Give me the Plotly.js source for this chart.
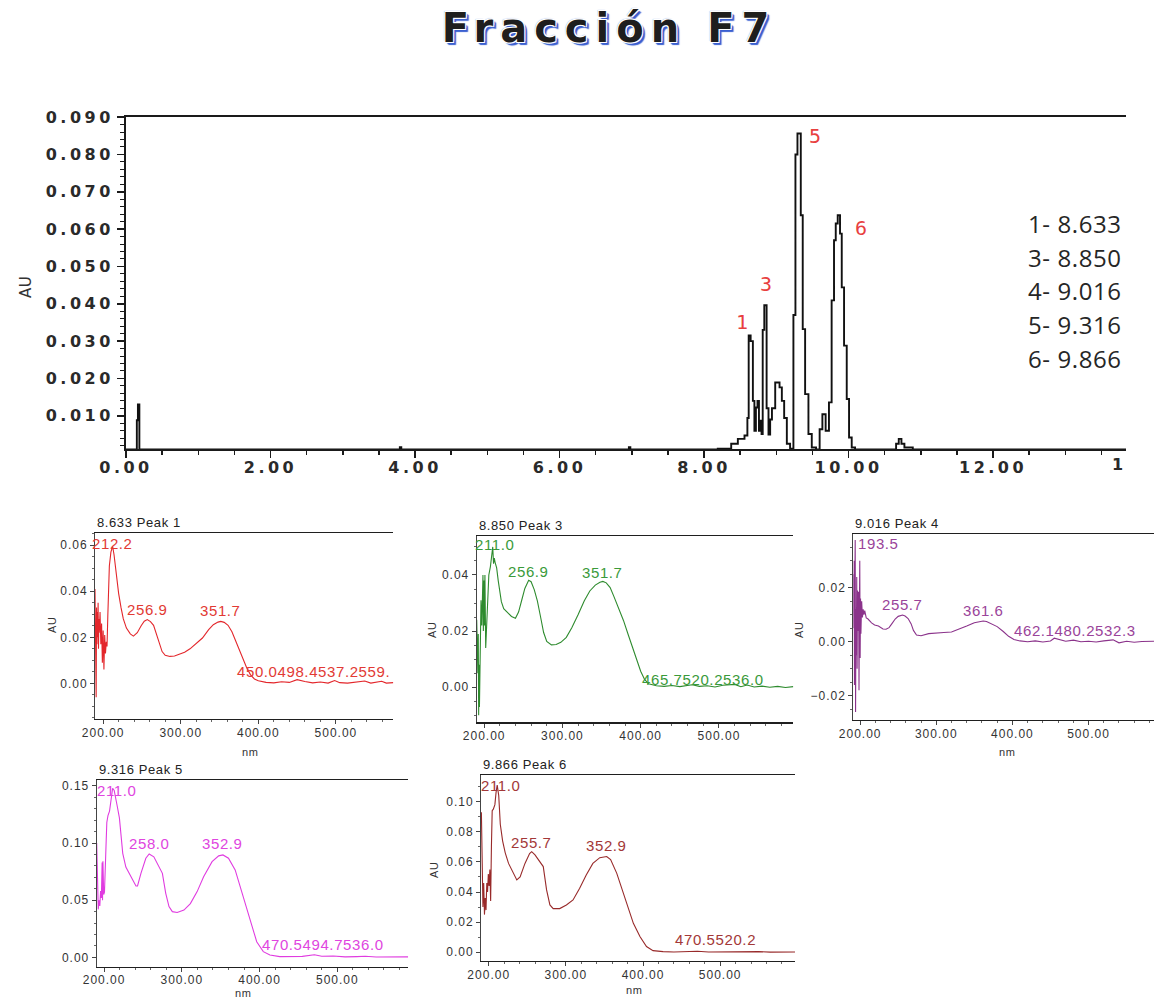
<!DOCTYPE html>
<html>
<head>
<meta charset="utf-8">
<script src="https://cdn.plot.ly/plotly-3.0.1.min.js"></script>
<style>
  html, body { margin: 0; padding: 0; background: #fff; }
  #chart { width: 1154px; height: 1001px; }
  .gtitle { letter-spacing: 7px; }
  .xtick text, .ytick text { letter-spacing: 3.5px; }
  .x2tick text, .y2tick text, .x3tick text, .y3tick text, .x4tick text, .y4tick text,
  .x5tick text, .y5tick text, .x6tick text, .y6tick text { letter-spacing: 1px; }
  .annotation-text { letter-spacing: 0.6px; }
</style>
</head>
<body>
<div id="chart"></div>
<script>
// ---- Chromatogram, fraction F7 (retention time in min, absorbance in AU) ----
const rtMin = [
  0.000, 0.150, 0.165, 0.185, 3.790, 3.810, 6.960, 6.980, 8.000, 8.190,
  8.376, 8.468, 8.560, 8.600, 8.618, 8.645, 8.676, 8.697, 8.718, 8.740,
  8.760, 8.778, 8.796, 8.812, 8.834, 8.866, 8.892, 8.915, 8.940, 8.985,
  9.045, 9.077, 9.109, 9.146, 9.191, 9.237, 9.265, 9.293, 9.339, 9.366,
  9.399, 9.445, 9.491, 9.550, 9.600, 9.638, 9.683, 9.729, 9.766, 9.799,
  9.823, 9.850, 9.882, 9.906, 9.938, 9.975, 10.007, 10.044, 10.090, 10.658,
  10.695, 10.732, 10.773, 10.889, 13.840
];
const rtAU = [
  0.0010, 0.0088, 0.0130, 0.0010, 0.0016, 0.0010, 0.0016, 0.0010, 0.0010, 0.0012,
  0.0025, 0.0038, 0.0047, 0.0094, 0.0315, 0.0300, 0.0140, 0.0060, 0.0122, 0.0140,
  0.0060, 0.0087, 0.0051, 0.0330, 0.0396, 0.0120, 0.0050, 0.0090, 0.0120, 0.0189,
  0.0176, 0.0140, 0.0094, 0.0025, 0.0012, 0.0370, 0.0800, 0.0856, 0.0637, 0.0332,
  0.0158, 0.0051, 0.0015, 0.0010, 0.0064, 0.0104, 0.0060, 0.0136, 0.0409, 0.0570,
  0.0615, 0.0637, 0.0588, 0.0444, 0.0288, 0.0145, 0.0042, 0.0015, 0.0010, 0.0025,
  0.0038, 0.0025, 0.0015, 0.0010, 0.0010
];

// Numbered peaks and their retention times
const peakNumbers = ['1', '3', '5', '6'];
const peakListNumbers = ['1', '3', '4', '5', '6'];
const peakListTimes = ['8.633', '8.850', '9.016', '9.316', '9.866'];

// ---- UV spectra (wavelength in nm, absorbance in AU) ----
// Peak 1, 8.633 min
const p1Nm = [189.5,190,190.5,191,191.5,192,192.5,193,193.5,194,194.5,195,196,197,198,199,200,201,202,203,
  204,205,206,207,208,210,212.2,214,216,218,220,223,226,230,235,239,244,249,253,256.9,
  261,265,268,272,276,280,286,292,298,305,312,320,328,336,342,348,351.7,356,361,366,
  370,375,380,385,390,395,400,410,420,430,440,450,460,470,480,490,498.4,505,515,525,
  537.2,545,552,559,565,574];
const p1Au = [0.041,0.012,0.036,-0.006,0.033,0.017,0.031,0.020,0.035,0.015,0.028,0.022,0.031,0.017,0.026,0.009,0.023,0.006,0.021,0.013,
  0.018,0.016,0.029,0.041,0.051,0.057,0.0595,0.056,0.050,0.044,0.039,0.033,0.028,0.024,0.0215,0.0205,0.022,0.025,0.027,0.0277,
  0.0268,0.0252,0.022,0.017,0.0138,0.0122,0.0117,0.0119,0.0125,0.0135,0.015,0.0172,0.0197,0.0233,0.0255,0.0266,0.0269,0.0265,0.0252,0.0224,
  0.0192,0.0150,0.0106,0.0068,0.0037,0.0019,0.0011,0.0004,0.0002,0.0007,0.0004,0.0016,0.0008,0.0002,0.0006,0.0001,0.0012,0.0003,0.0001,0.0006,
  0.0010,0.0001,0.0005,0.0009,0.0001,0.0003];
const p1Maxima = [212.2, 256.9, 351.7];
const p1Extra = '450.0498.4537.2559.';

// Peak 3, 8.850 min
const p3Nm = [190.5,191,191.5,192,192.5,193,193.5,194,194.5,195,195.5,196,197,197.5,198,198.5,199,200,200.5,201,
  202,203,204,205,206,208,209.5,211.0,212,213,214,216,218,220,222,225,230,235,240,244,
  248,252,256.9,260,264,268,272,276,280,286,292,298,305,312,320,328,335,342,348,351.7,
  356,361,366,372,378,384,390,396,400,405,410,420,430,440,450,465.7,475,485,495,505,
  520.2,528,536.0,545,555,565,575,585,595];
const p3Au = [0.024,0.013,0.022,0.005,0.019,-0.010,0.008,-0.007,0.011,0.029,0.019,0.031,0.022,0.030,0.024,0.040,0.020,0.038,0.022,0.040,
  0.014,0.021,0.030,0.036,0.040,0.043,0.046,0.050,0.044,0.046,0.0445,0.0425,0.038,0.034,0.0305,0.028,0.0265,0.0252,0.0246,0.0268,
  0.031,0.0352,0.0381,0.0376,0.0348,0.0308,0.0252,0.0195,0.0163,0.0151,0.0152,0.016,0.0178,0.0212,0.0258,0.0308,0.0343,0.0364,0.0374,0.0377,
  0.0372,0.0355,0.0322,0.0282,0.0238,0.0188,0.0137,0.0089,0.0057,0.0028,0.0012,0.0005,0.0003,0.0006,0.0002,0.0009,0.0003,0.0005,0.0001,0.0007,
  0.0010,0.0002,0.0008,0.0001,0.0004,0.0000,0.0003,-0.0001,0.0002];
const p3Maxima = [211.0, 256.9, 351.7];
const p3Extra = '465.7520.2536.0';

// Peak 4, 9.016 min
const p4Nm = [191,191.5,192,192.5,193,193.5,194,194.5,195,195.5,196,196.5,197,198,198.5,199,199.5,200,200.5,201,
  202,203,204,205,206,208,210,215,219,224,230,234,238,242,246,250,255.7,259,263,267,
  270,274,280,290,300,310,320,330,340,350,356,361.6,366,372,380,388,395,402,410,420,
  430,440,450,455,462.1,470,480.2,490,500,510,520,532.3,540,550,560,570,586];
const p4Au = [0.025,0.005,0.030,-0.016,0.020,0.0377,-0.026,0.012,-0.005,0.024,-0.010,0.019,0.004,0.0185,-0.018,0.010,0.030,-0.006,0.016,0.003,
  0.015,0.009,0.012,0.010,0.0115,0.0088,0.0085,0.0070,0.0062,0.0058,0.0047,0.0046,0.0052,0.0068,0.0084,0.0094,0.0099,0.0095,0.0086,0.0066,
  0.0042,0.0025,0.0022,0.0030,0.0033,0.0034,0.0036,0.0046,0.0058,0.0070,0.0075,0.0077,0.0075,0.0068,0.0056,0.0038,0.0020,0.0008,0.0003,0.0000,
  0.0003,-0.0001,0.0003,0.0013,0.0009,0.0002,0.0006,0.0000,0.0002,-0.0001,0.0003,0.0007,-0.0004,0.0002,-0.0002,0.0001,0.0002];
const p4Maxima = [193.5, 255.7, 361.6];
const p4Extra = '462.1480.2532.3';

// Peak 5, 9.316 min
const p5Nm = [190.5,191.5,192.5,193.5,194.5,195.5,196.5,197.5,198,198.5,199.5,200.5,201.5,202.5,203.5,205,207,208.5,210,211.0,
  213,215,217,219.7,222,224,228,234.6,241,243,247.4,253.7,258.0,264,268.6,275,279.3,283.5,287.8,294,
  302.7,311,319.7,328,338.9,347.4,352.9,360,368.6,375,383.5,390,396.3,404.8,413.3,426,440,455,470.5,480,
  494.7,510,525,536.0,550,565,580,591];
const p5Au = [0.100,0.062,0.042,0.050,0.045,0.058,0.052,0.083,0.050,0.084,0.055,0.057,0.072,0.098,0.118,0.124,0.128,0.136,0.145,0.148,
  0.146,0.140,0.132,0.122,0.102,0.091,0.079,0.0706,0.0624,0.0625,0.0735,0.0867,0.0905,0.088,0.0823,0.0735,0.056,0.0444,0.0400,0.0392,
  0.0414,0.0470,0.0575,0.0706,0.0837,0.0888,0.0896,0.0867,0.0765,0.0619,0.0414,0.0268,0.0137,0.0050,0.0020,0.0006,0.0004,0.0008,0.0022,0.0009,
  0.0011,0.0004,0.0006,0.0009,0.0003,0.0005,0.0002,0.0004];
const p5Maxima = [211.0, 258.0, 352.9];
const p5Extra = '470.5494.7536.0';

// Peak 6, 9.866 min
const p6Nm = [190.5,191.5,192.5,193.5,194.5,195.5,196.5,197.5,198.5,199.5,200.5,201.5,202.5,203.5,204.5,206,208,209.5,211.0,213,
  215,218,221.4,225.7,232,236.4,240.7,247,253,255.7,260,266.4,270.7,275,279.3,283.6,292,300.7,309.3,317.9,
  326.4,335,344,352.9,358,366,374.5,381,387.5,396,404.5,413,426,440,455,470.5,485,500,520.2,535,
  550,565,580,597];
const p6Au = [0.093,0.040,0.030,0.046,0.025,0.036,0.028,0.046,0.040,0.052,0.044,0.055,0.034,0.070,0.094,0.095,0.098,0.106,0.111,0.104,
  0.085,0.074,0.066,0.059,0.0524,0.048,0.050,0.059,0.0655,0.0668,0.0646,0.060,0.0569,0.0414,0.0314,0.029,0.029,0.0314,0.0347,0.0425,
  0.0513,0.059,0.0628,0.0636,0.0615,0.0524,0.039,0.0303,0.0192,0.0104,0.0038,0.0011,0.0004,0.0002,0.0004,0.0007,0.0002,0.0003,0.0006,0.0002,
  0.0004,0.0001,0.0003,0.0002];
const p6Maxima = [211.0, 255.7, 352.9];
const p6Extra = '470.5520.2';

// ---------------------------------------------------------------------------
const W = 1154, H = 1001;
const px = v => v / W;          // pixel column -> paper x
const py = v => 1 - v / H;      // pixel row -> paper y

const traces = [{
  x: rtMin, y: rtAU, xaxis: 'x', yaxis: 'y', mode: 'lines',
  line: { color: '#111111', width: 1.9, shape: 'hv' }, hoverinfo: 'skip'
}];

const spectra = [
  { id: 2, nm: p1Nm, au: p1Au, color: '#e3262b', text: '#e23a34', maxima: p1Maxima, extra: p1Extra,
    title: '8.633 Peak 1', box: [95, 393.3, 533.3, 719], xr: [189.5, 574], yr: [-0.0155, 0.0652],
    dy: 0.02, minorY: 0.005, shifts: [[0, 3], [0, 10], [0, 11]], anchors: ['center', 'center', 'center'],
    extraPos: [370, 0.0051] },
  { id: 3, nm: p3Nm, au: p3Au, color: '#2e8b2e', text: '#3a9a3a', maxima: p3Maxima, extra: p3Extra,
    title: '8.850 Peak 3', box: [476.7, 793.3, 535.7, 722.3], xr: [190.5, 595], yr: [-0.0125, 0.054],
    dy: 0.02, minorY: 0.005, shifts: [[2, 2], [0, 9], [0, 9]], anchors: ['center', 'center', 'center'],
    extraPos: [399, 0.0026] },
  { id: 4, nm: p4Nm, au: p4Au, color: '#8b338b', text: '#9a449a', maxima: p4Maxima, extra: p4Extra,
    title: '9.016 Peak 4', box: [853.3, 1154, 534.3, 720], xr: [191, 586], yr: [-0.029, 0.0398],
    dy: 0.02, minorY: 0.005, shifts: [[1, -4], [0, 11], [0, 10]], anchors: ['left', 'center', 'center'],
    extraPos: [399, 0.0043] },
  { id: 5, nm: p5Nm, au: p5Au, color: '#e03ce0', text: '#e045e0', maxima: p5Maxima, extra: p5Extra,
    title: '9.316 Peak 5', box: [96.7, 408.3, 780, 966.7], xr: [190.5, 591.3], yr: [-0.0082, 0.1552],
    dy: 0.05, minorY: 0.01, shifts: [[4, -2], [0, 10], [0, 11]], anchors: ['center', 'center', 'center'],
    extraPos: [400.5, 0.0108] },
  { id: 6, nm: p6Nm, au: p6Au, color: '#982a2a', text: '#a33838', maxima: p6Maxima, extra: p6Extra,
    title: '9.866 Peak 6', box: [481, 795, 775, 961], xr: [190, 597], yr: [-0.0058, 0.1177],
    dy: 0.02, minorY: 0.01, shifts: [[3, 0], [0, 9], [0, 11]], anchors: ['center', 'center', 'center'],
    extraPos: [438.5, 0.0082] }
];

const mainTickFont = { family: 'DejaVu Sans', size: 16, weight: 'bold', color: '#2a2a2a' };
const smallTickFont = { family: 'Liberation Sans', size: 12, color: '#333333' };

const layout = {
  width: W, height: H,
  margin: { l: 0, r: 0, t: 0, b: 0 },
  paper_bgcolor: '#ffffff', plot_bgcolor: 'rgba(0,0,0,0)',
  showlegend: false,
  title: {
    text: 'Fracción F7', x: 609 / W, xanchor: 'center', y: py(28), yanchor: 'middle',
    font: { family: 'DejaVu Sans', size: 40, weight: 'bold', color: '#1e1e1e',
            shadow: '1px 1px 0 #fff, -1px -1px 0 #fff, 1px -1px 0 #fff, -1px 1px 0 #fff, ' +
                    '3px 3px 1px #3a5fd0, 2px 2px 1px #3a5fd0, -1px -1px 1px #7d95dc' }
  },
  xaxis: {
    domain: [px(126), px(1126)], range: [0, 13.84], anchor: 'y',
    showline: true, linecolor: '#1a1a1a', linewidth: 2, mirror: true,
    ticks: 'outside', ticklen: 7, tickwidth: 1.5, tickcolor: '#1a1a1a',
    tick0: 0, dtick: 2, tickformat: '.2f', tickfont: mainTickFont, ticklabelstandoff: -4,
    minor: { dtick: 0.5, ticks: 'outside', ticklen: 4, tickwidth: 1.5, tickcolor: '#1a1a1a' },
    showgrid: false, zeroline: false
  },
  yaxis: {
    domain: [py(449), py(117)], range: [0.0011, 0.09003], anchor: 'x',
    showline: true, linecolor: '#1a1a1a', linewidth: 2,
    ticks: 'outside', ticklen: 7, tickwidth: 1.5, tickcolor: '#1a1a1a',
    tick0: 0, dtick: 0.01, tickformat: '.3f', tickfont: mainTickFont,
    minor: { dtick: 0.002, ticks: 'outside', ticklen: 4, tickwidth: 1, tickcolor: '#1a1a1a' },
    showgrid: false, zeroline: false
  },
  annotations: []
};

const ann = layout.annotations;

// Peak numbers over the chromatogram
const peakNumberPos = { '1': [8.53, 0.0350], '3': [8.86, 0.0452], '5': [9.547, 0.0849], '6': [10.18, 0.0602] };
peakNumbers.forEach(n => {
  ann.push({ xref: 'x', yref: 'y', x: peakNumberPos[n][0], y: peakNumberPos[n][1], text: n,
    showarrow: false, xanchor: 'center', yanchor: 'middle',
    font: { family: 'DejaVu Sans Mono', size: 20, color: '#e8403f' } });
});

// Retention-time list
peakListNumbers.forEach((n, i) => {
  ann.push({ xref: 'paper', yref: 'paper', x: px(1026), y: py(223.3 + i * 33.75),
    text: n + '- ' + peakListTimes[i], showarrow: false, xanchor: 'left', yanchor: 'middle',
    font: { family: 'Open Sans', size: 24, color: '#262626' } });
});

// Axis title of the chromatogram and the clipped last tick label
ann.push({ xref: 'paper', yref: 'paper', x: px(26), y: py(287), text: 'AU', textangle: -90,
  showarrow: false, xanchor: 'center', yanchor: 'middle',
  font: { family: 'DejaVu Sans', size: 15, color: '#333333' } });
ann.push({ xref: 'paper', yref: 'paper', x: px(1110), y: py(465), text: '1',
  showarrow: false, xanchor: 'left', yanchor: 'middle', font: mainTickFont });

// Spectrum panels
spectra.forEach(s => {
  const xa = 'xaxis' + s.id, ya = 'yaxis' + s.id;
  const [x0, x1, yTop, yBot] = s.box;
  traces.push({ x: s.nm, y: s.au, xaxis: 'x' + s.id, yaxis: 'y' + s.id, mode: 'lines',
    line: { color: s.color, width: 1.1 }, hoverinfo: 'skip' });
  layout[xa] = {
    domain: [px(x0), Math.min(1, px(x1))], range: s.xr, anchor: 'y' + s.id,
    showline: true, linecolor: '#1f1f1f', linewidth: 1.2, mirror: true,
    ticks: 'outside', ticklen: 4, tickcolor: '#444', tick0: 0, dtick: 100, tickformat: '.2f',
    tickfont: smallTickFont, ticklabelstandoff: -2,
    minor: { dtick: 20, ticks: 'outside', ticklen: 2, tickcolor: '#666' },
    showgrid: false, zeroline: false
  };
  layout[ya] = {
    domain: [py(yBot), py(yTop)], range: s.yr, anchor: 'x' + s.id,
    showline: true, linecolor: '#444', linewidth: 1,
    ticks: 'outside', ticklen: 4, tickcolor: '#444', tick0: 0, dtick: s.dy, tickformat: '.2f',
    tickfont: smallTickFont,
    minor: { dtick: s.minorY, ticks: 'outside', ticklen: 2, tickcolor: '#666' },
    showgrid: false, zeroline: false
  };
  // panel caption
  ann.push({ xref: 'paper', yref: 'paper', x: px(x0), y: py(yTop - 1), text: s.title,
    showarrow: false, xanchor: 'left', yanchor: 'bottom',
    font: { family: 'Liberation Sans', size: 13, color: '#222222' } });
  // labelled absorption maxima
  s.maxima.forEach((w, i) => {
    ann.push({ xref: 'x' + s.id, yref: 'y' + s.id, x: w, y: s.au[s.nm.indexOf(w)],
      text: w.toFixed(1), showarrow: false, xanchor: s.anchors[i], yanchor: 'middle',
      xshift: s.shifts[i][0], yshift: s.shifts[i][1],
      font: { family: 'Liberation Sans', size: 15, color: s.text } });
  });
  ann.push({ xref: 'x' + s.id, yref: 'y' + s.id, x: s.extraPos[0], y: s.extraPos[1],
    text: s.extra, showarrow: false, xanchor: 'left', yanchor: 'middle',
    font: { family: 'Liberation Sans', size: 15, color: s.text } });
});

// Axis titles of the spectrum panels
const panelTitles = [
  ['AU', 52, 625, -90], ['AU', 432, 630, -90], ['AU', 799, 630, -90], ['AU', 434, 870, -90],
  ['nm', 250, 752, 0], ['nm', 1007, 752, 0], ['nm', 243, 993, 0], ['nm', 634, 990, 0]
];
panelTitles.forEach(([t, x, y, a]) => {
  ann.push({ xref: 'paper', yref: 'paper', x: px(x), y: py(y), text: t, textangle: a,
    showarrow: false, xanchor: 'center', yanchor: 'middle',
    font: { family: 'Liberation Sans', size: 11, color: '#333333' } });
});

Plotly.newPlot('chart', traces, layout, { staticPlot: true, displayModeBar: false });
</script>
</body>
</html>
